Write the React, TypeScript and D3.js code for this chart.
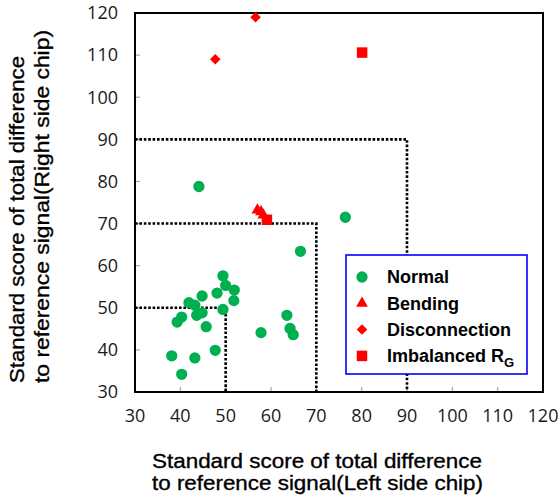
import React from "react";
import * as d3 from "d3";

// Standard scores: [left chip, right chip]
const normalPoints: [number, number][] = [
  [44.1, 78.8], [76.4, 71.5], [66.5, 63.4], [49.4, 57.6], [50.0, 55.3],
  [51.9, 54.2], [48.1, 53.5], [44.8, 52.8], [51.8, 51.7], [41.9, 51.2],
  [43.2, 50.6], [49.4, 49.6], [44.8, 48.8], [43.6, 48.2], [40.3, 47.8],
  [39.3, 46.6], [45.7, 45.5], [63.5, 48.2], [64.2, 45.1], [64.9, 43.6],
  [57.8, 44.1], [47.7, 39.9], [38.1, 38.6], [43.2, 38.1], [40.3, 34.2],
];
const bendingPoints: [number, number][] = [[57.0, 73.2], [57.8, 72.8], [58.3, 72.0]];
const disconnectionPoints: [number, number][] = [[47.7, 109.0], [56.6, 119.0]];
const imbalancedPoints: [number, number][] = [[80.1, 110.6], [59.1, 70.9]];

const tickValues = [30, 40, 50, 60, 70, 80, 90, 100, 110, 120];
const thresholds = [50, 70, 90];
const legendLabels = ["Normal", "Bending", "Disconnection", "Imbalanced R"];

const width = 559;
const height = 502;
const margin = { top: 13, right: 16, bottom: 110, left: 135 };

const green = "#00b050";
const red = "#ff0000";

const App = () => {
  const x = d3
    .scaleLinear()
    .domain([30, 120])
    .range([margin.left, width - margin.right]);
  const y = d3
    .scaleLinear()
    .domain([30, 120])
    .range([height - margin.bottom, margin.top]);

  const circle = d3.symbol(d3.symbolCircle, 100)();
  const triangle = d3.symbol(d3.symbolTriangle, 60)();
  const diamond = d3.symbol(d3.symbolSquare, 55)();
  const square = d3.symbol(d3.symbolSquare, 110)();

  const tickFont = "'Open Sans', sans-serif";
  const titleFont = "'Liberation Sans', Arial, sans-serif";

  const legendX = 346;
  const legendY = 255;
  const rowGap = 26.3;

  const markers = [
    { d: circle, fill: green, rot: 0 },
    { d: triangle, fill: red, rot: 0 },
    { d: diamond, fill: red, rot: 45 },
    { d: square, fill: red, rot: 0 },
  ];

  return (
    <svg
      width={width}
      height={height}
      style={{ position: "absolute", left: 0, top: 0, background: "#fff" }}
    >
      {/* ticks inside the frame */}
      {tickValues.map((t) => (
        <g key={`t${t}`} stroke="#a6a6a6" strokeWidth={1.2}>
          <line x1={x(t)} x2={x(t)} y1={y(30)} y2={y(30) - 5} />
          <line x1={x(30)} x2={x(30) + 5} y1={y(t)} y2={y(t)} />
        </g>
      ))}

      {/* dotted threshold boxes */}
      {thresholds.map((t) => (
        <path
          key={`b${t}`}
          d={`M${x(30)},${y(t)}H${x(t)}V${y(30)}`}
          fill="none"
          stroke="#000"
          strokeWidth={2.6}
          strokeDasharray="2.6 1.8"
        />
      ))}

      {/* frame */}
      <rect
        x={x(30)}
        y={y(120)}
        width={x(120) - x(30)}
        height={y(30) - y(120)}
        fill="none"
        stroke="#000"
        strokeWidth={2}
      />

      {/* tick labels */}
      {tickValues.map((t) => (
        <text
          key={`xl${t}`}
          x={x(t)}
          y={y(30) + 30}
          textAnchor="middle"
          fontFamily={tickFont}
          fontSize={18}
          fill="#1a1a1a"
        >
          {t}
        </text>
      ))}
      {tickValues.map((t) => (
        <text
          key={`yl${t}`}
          x={x(30) - 17}
          y={y(t)}
          dy="0.35em"
          textAnchor="end"
          fontFamily={tickFont}
          fontSize={18}
          fill="#1a1a1a"
        >
          {t}
        </text>
      ))}

      {/* points */}
      {normalPoints.map(([a, b], i) => (
        <path key={`n${i}`} d={circle} fill={green} transform={`translate(${x(a)},${y(b)})`} />
      ))}
      {bendingPoints.map(([a, b], i) => (
        <path key={`be${i}`} d={triangle} fill={red} transform={`translate(${x(a)},${y(b)})`} />
      ))}
      {disconnectionPoints.map(([a, b], i) => (
        <path
          key={`d${i}`}
          d={diamond}
          fill={red}
          transform={`translate(${x(a)},${y(b)}) rotate(45)`}
        />
      ))}
      {imbalancedPoints.map(([a, b], i) => (
        <path key={`im${i}`} d={square} fill={red} transform={`translate(${x(a)},${y(b)})`} />
      ))}

      {/* legend */}
      <rect
        x={legendX}
        y={legendY}
        width={181}
        height={119}
        fill="#fff"
        stroke="#0000ff"
        strokeWidth={1.6}
      />
      {legendLabels.map((label, i) => {
        const cy = legendY + 22 + i * rowGap;
        const m = markers[i];
        return (
          <g key={label}>
            <path
              d={m.d}
              fill={m.fill}
              transform={`translate(${legendX + 16},${cy}) rotate(${m.rot})`}
            />
            <text
              x={legendX + 41}
              y={cy}
              dy="0.36em"
              fontFamily={titleFont}
              fontWeight="bold"
              fontSize={18}
              fill="#000"
            >
              {label}
              {i === 3 && (
                <tspan fontSize={13} dy={5}>
                  G
                </tspan>
              )}
            </text>
          </g>
        );
      })}

      {/* axis titles */}
      <g fontFamily={titleFont} fontSize={21} fill="#000" stroke="#000" strokeWidth={0.35}>
        <text x={152} y={468} textLength={330} lengthAdjust="spacingAndGlyphs">
          Standard score of total difference
        </text>
        <text x={152} y={490} textLength={331} lengthAdjust="spacingAndGlyphs">
          to reference signal(Left side chip)
        </text>
        <text
          transform="translate(24,383) rotate(-90)"
          textLength={327}
          lengthAdjust="spacingAndGlyphs"
        >
          Standard score of total difference
        </text>
        <text
          transform="translate(49,383) rotate(-90)"
          textLength={353}
          lengthAdjust="spacingAndGlyphs"
        >
          to reference signal(Right side chip)
        </text>
      </g>
    </svg>
  );
};

export default App;
